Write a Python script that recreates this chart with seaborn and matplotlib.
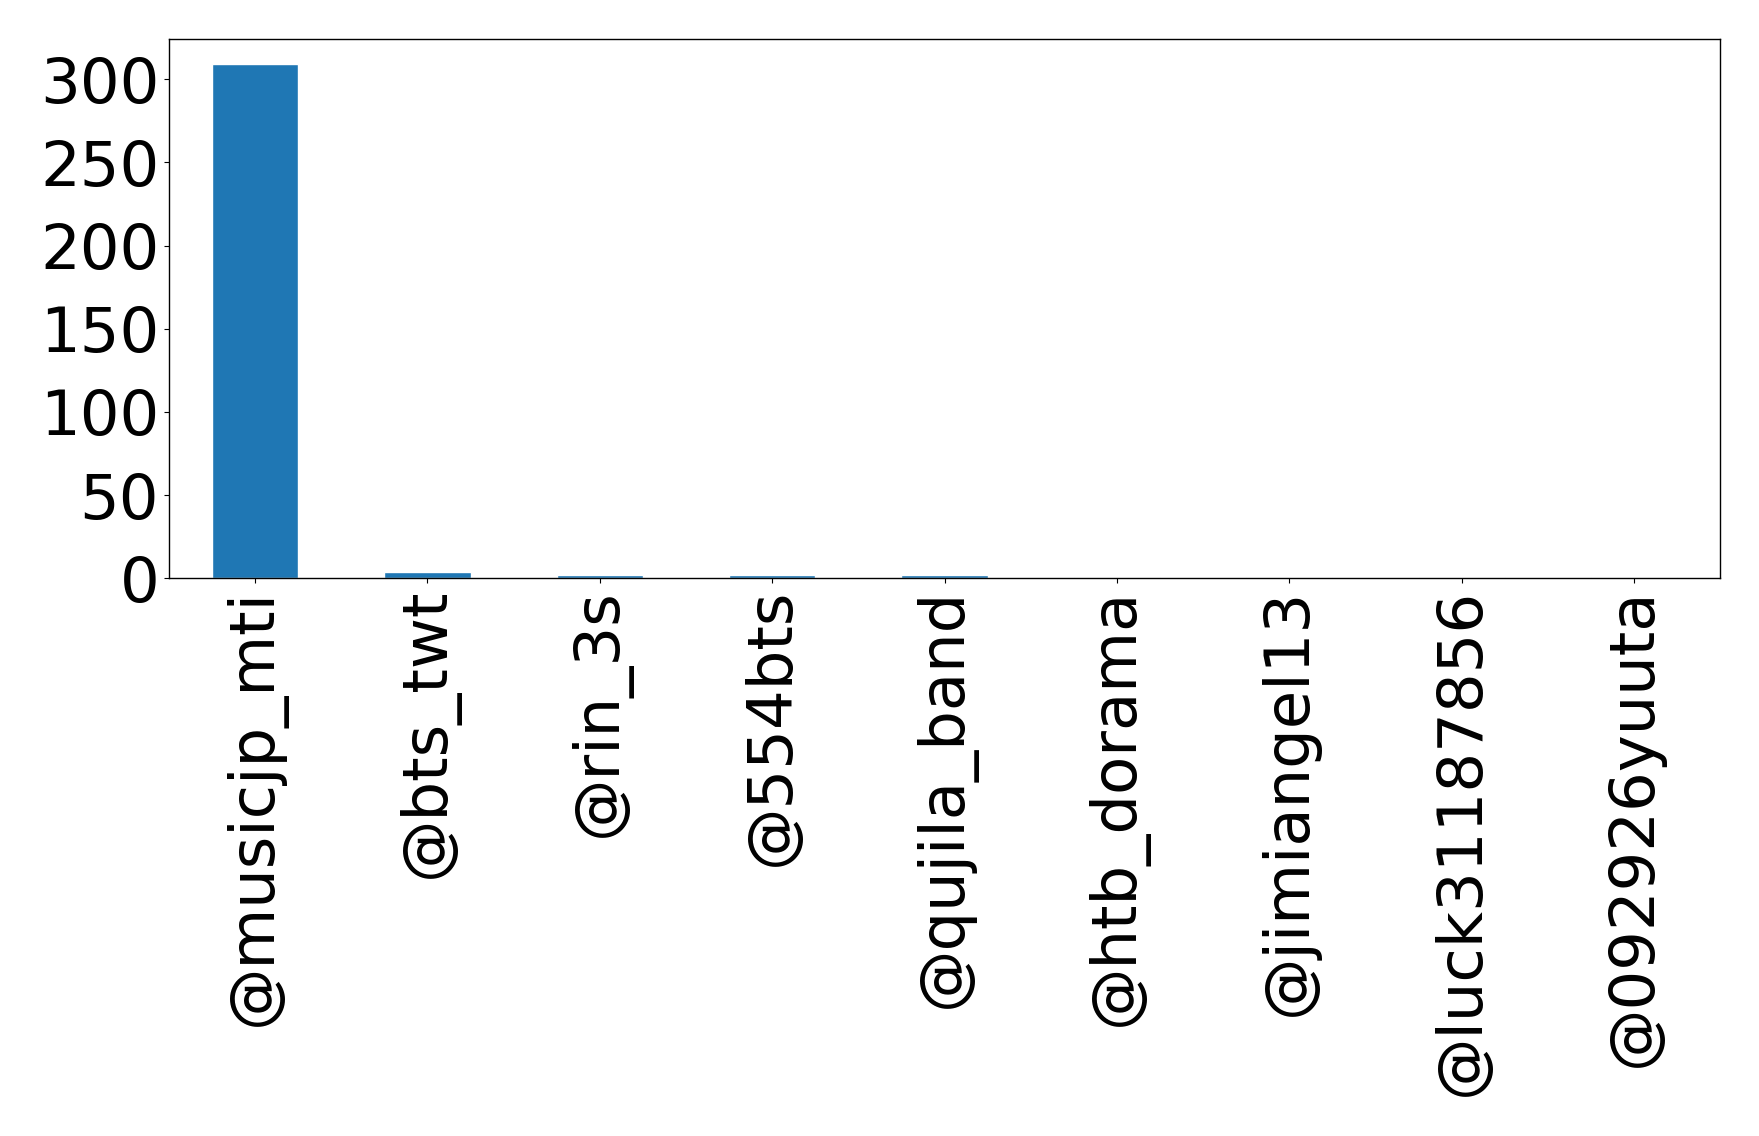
import pandas as pd
import seaborn as sns
import matplotlib.pyplot as plt
from matplotlib.ticker import MultipleLocator

# accounts and how often they show up
accounts = ["@musicjp_mti", "@bts_twt", "@rin_3s", "@554bts", "@qujila_band",
            "@htb_dorama", "@jimiangel13", "@luck31187856", "@092926yuuta"]
counts = [309, 4, 2, 2, 2, 1, 1, 1, 1]

df = pd.DataFrame({"account": accounts, "count": counts})

sns.set_style("ticks", {"axes.edgecolor": "black", "text.color": "black",
                        "xtick.color": "black", "ytick.color": "black",
                        "axes.labelcolor": "black"})
plt.rcParams['font.family'] = ['DejaVu Sans']

fig, ax = plt.subplots(figsize=(17.59, 11.36), dpi=100)
sns.barplot(x="account", y="count", data=df, color="#1f77b4", saturation=1,
            width=0.5, ax=ax)
ax.set_xlim(-0.5, len(accounts) - 0.5)
ax.yaxis.set_major_locator(MultipleLocator(50))
ax.set_xlabel("")
ax.set_ylabel("")
ax.tick_params(axis="both", labelsize=45, colors="black")
ax.tick_params(axis="x", rotation=90)
for side in ["top", "right", "left", "bottom"]:
    ax.spines[side].set_visible(True)
    ax.spines[side].set_color("black")
    ax.spines[side].set_linewidth(1)

plt.subplots_adjust(left=0.096, right=0.978, top=0.966, bottom=0.491)
plt.savefig("out.png", dpi=100)
plt.close()
